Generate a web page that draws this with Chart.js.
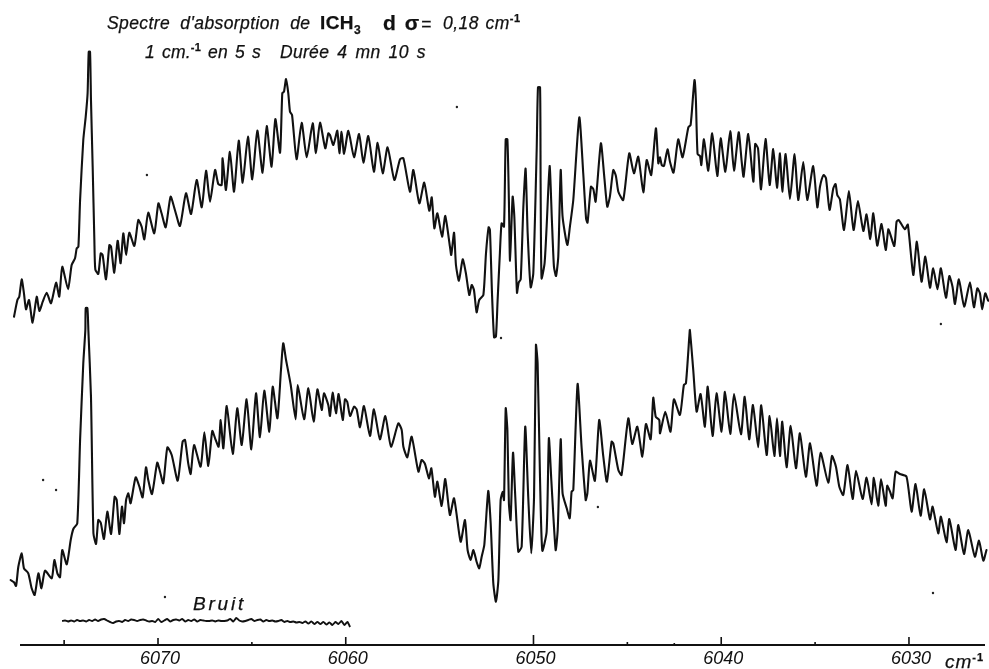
<!DOCTYPE html>
<html lang="fr">
<head>
  <meta charset="UTF-8">
  <title>Spectre d'absorption de ICH3</title>
  <script src="https://cdn.jsdelivr.net/npm/chart.js"></script>
  <style>
    html, body { margin: 0; padding: 0; background: #fff; overflow: hidden; }
    #wrap { position: relative; width: 989px; height: 669px; overflow: hidden; }
    canvas { display: block; }
    .t { position: absolute; white-space: pre; font: italic 17.5px "Liberation Sans", sans-serif; color: #111; line-height: 1; -webkit-text-stroke: .25px #111; }
    .t b { font-style: normal; font-weight: 700; font-size: 19px; }
    .t sup { font-size: 11px; font-style: normal; font-weight: 700; line-height: 0; }
    .t sub { font-size: 12px; line-height: 0; }
  </style>
</head>
<body>
<div id="wrap">
  <canvas id="spectre" width="989" height="669"></canvas>
  <div class="t" style="left:107px;top:15px;word-spacing:5px;letter-spacing:.4px">Spectre d'absorption de</div>
  <div class="t" style="left:320px;top:13px"><b style="letter-spacing:.4px">ICH<sub>3</sub></b></div>
  <div class="t" style="left:383px;top:12px"><b style="font-size:21px;word-spacing:3px">d σ</b></div>
  <div class="t" style="left:421px;top:16px">=</div>
  <div class="t" style="left:443px;top:15px;letter-spacing:.5px;word-spacing:1px">0,18 cm<sup>-1</sup></div>
  <div class="t" style="left:145px;top:44px;letter-spacing:.2px;word-spacing:2px">1 cm.<sup>-1</sup> en 5 s</div>
  <div class="t" style="left:280px;top:44px;letter-spacing:.3px;word-spacing:3px">Durée 4 mn 10 s</div>
  <div class="t" style="left:193px;top:594px;font-size:19px;letter-spacing:2.8px">Bruit</div>
  <div class="t" style="left:945px;top:652px;font-size:19px;letter-spacing:1px">cm<sup>-1</sup></div>
</div>

<script>
  var upperWave = [
    6077.67,6077.49,6077.39,6077.26,6077.14,6077.03,6076.87,6076.68,6076.46,6076.32,
    6076.14,6075.93,6075.70,6075.43,6075.26,6075.10,6074.79,6074.60,6074.42,6074.33,
    6074.24,6074.15,6073.98,6073.85,6073.75,6073.69,6073.62,6073.57,6073.48,6073.39,
    6073.34,6073.18,6073.05,6072.95,6072.77,6072.59,6072.50,6072.33,6072.15,6071.99,
    6071.85,6071.70,6071.53,6071.26,6071.05,6070.87,6070.73,6070.52,6070.20,6069.98,
    6069.81,6069.59,6069.33,6069.10,6068.83,6068.51,6068.24,6067.94,6067.67,6067.44,
    6067.23,6066.96,6066.79,6066.61,6066.56,6066.38,6066.17,6065.95,6065.70,6065.49,
    6065.21,6064.98,6064.71,6064.43,6064.21,6063.95,6063.75,6063.50,6063.38,6063.29,
    6063.18,6063.06,6062.97,6062.86,6062.62,6062.35,6062.08,6061.76,6061.59,6061.37,
    6061.09,6060.93,
    6060.84,6060.66,6060.45,6060.34,6060.22,6060.09,6059.86,6059.56,6059.29,6059.06,
    6058.80,6058.50,6058.30,6058.03,6057.77,6057.41,6057.11,6056.93,6056.58,6056.40,
    6056.08,6055.82,6055.55,6055.42,6055.28,6055.12,6054.87,6054.70,6054.45,6054.38,
    6054.23,6054.13,6053.97,6053.77,6053.60,6053.42,6053.29,6053.17,6053.03,6052.89,
    6052.67,6052.53,6052.39,6052.32,6052.21,6052.10,6052.00,6051.91,6051.79,6051.70,
    6051.57,6051.48,6051.39,6051.31,6051.25,6051.11,6051.02,6050.88,6050.79,6050.68,
    6050.54,6050.42,6050.31,6050.15,6050.01,6049.83,6049.76,6049.65,6049.62,6049.57,
    6049.41,6049.30,6049.14,6049.02,6048.91,6048.80,6048.68,6048.55,6048.45,6048.20,
    6048.06,6047.88,6047.56,6047.35,6047.20,6047.12,6046.94,6046.81,6046.69,6046.41,
    6046.23,6046.07,6045.93,6045.75,6045.61,6045.48,6045.22,6044.90,6044.65,6044.42,
    6044.15,6043.97,6043.73,6043.48,6043.35,
    6043.26,6043.17,6043.05,6042.86,6042.73,6042.54,6042.29,6042.06,6041.75,6041.63,
    6041.49,6041.42,6041.35,6041.26,6041.13,6041.06,6040.92,6040.69,6040.48,6040.21,
    6040.03,6039.78,6039.52,6039.32,6039.07,6038.91,6038.81,6038.56,6038.29,6038.19,
    6038.04,6037.88,6037.64,6037.42,6037.23,6037.03,6036.87,6036.75,6036.57,6036.34,
    6036.09,6035.90,6035.63,6035.42,6035.10,6034.88,6034.74,6034.55,6034.42,6034.23,
    6034.03,6033.91,6033.82,6033.68,6033.46,6033.20,6032.95,6032.72,6032.43,6032.26,
    6032.06,6031.90,6031.69,6031.46,6031.24,6031.10,6031.01,6030.78,6030.66,6030.55,
    6030.22,6030.06,6029.77,6029.58,6029.33,6029.13,6028.88,6028.71,6028.48,6028.30,
    6028.03,6027.85,6027.68,6027.55,6027.34,6027.06,6026.75,6026.54,6026.36,6026.22,
    6026.10,6025.94,6025.78
  ];
  var upperSignal = [
    328.3,345,348.3,365.7,351.7,335.7,345,322.3,348.3,334,
    343.3,352.3,341.7,362.3,348.3,378.3,355.7,380,386.7,396.7,
    398.3,445,505,528.3,551.7,593.3,593.3,545,478.3,405,
    375.7,371,391.7,390,365.7,400,398.3,372.3,404.3,381.7,
    411.7,390,412.3,399,425,418.3,405.7,432.3,411.7,441.7,
    431.7,417.7,448.3,435,419,451.7,431,465,437.7,474.3,
    443.3,475,461,460,486.7,455,493.3,453.3,504.3,462.3,
    508.3,465.7,514.3,472.3,519,478.3,526,492.3,551.7,553.3,
    566,551.7,533.3,530,485.7,522.3,487.7,521.7,491.7,522.3,
    496.7,511.7,
    510,500,514.3,491.7,513.3,491,514.3,487.7,511,482.3,
    509,473.3,502.3,471.7,497.7,465,485.7,486.7,453.3,475,
    441.7,462.3,434.3,447.7,416.7,431.7,408.3,429,398.3,390,
    412.3,380,364.3,385.7,371.7,350,360,355,332.7,345,
    350,391.7,417.7,415,351.7,307.7,308.3,345,391.7,421.7,
    418.3,505.7,505.7,445,384.3,448.3,428.3,352.3,362.3,365.7,
    438.3,476.3,411.7,357.7,371.7,495,557.7,557.7,461.7,366.7,
    381.7,418.3,479,425,378.3,369,388.3,475,428.3,400,
    418.3,445,527.7,471.7,426.7,422.3,458.3,455.7,443.3,501.7,
    468.3,438.3,448.3,475,469,453.3,445,491.7,471.7,488.3,
    452.7,485,470,516.7,481.7,
    487.7,480,479,495.7,483.3,472.3,505.7,487.7,517.7,520,
    551.7,565,545,491,489,480,505.7,474.3,511.7,469,
    506.7,473.3,514,474.3,512.7,483.3,468.3,511,463.3,501,
    496.7,455.7,506,460,496,457.3,491.7,453.3,491,446,
    491,445,483,445,479,437.7,458.3,470,466.7,435,
    456.7,461,450,445.7,415,454,415,444,414,430.7,
    405.7,431.7,399.3,421,395,415.7,411.7,399,423.3,425,
    415.7,420.3,370,403.3,363.3,388.3,357.3,376.7,355.7,376.7,
    347.3,369,358.3,341,365.7,338.3,362.7,337.7,356.7,351.7,
    335.7,351.7,344.3
  ];
  var lowerWave = [
    6077.85,6077.67,6077.56,6077.44,6077.26,6077.14,6076.91,6076.73,6076.57,6076.37,
    6076.21,6076.02,6075.66,6075.52,6075.36,6075.22,6075.10,6074.86,6074.65,6074.51,
    6074.30,6074.15,6073.98,6073.87,6073.85,6073.76,6073.71,6073.57,6073.44,6073.30,
    6073.18,6073.05,6072.88,6072.70,6072.50,6072.31,6072.20,6072.06,6071.92,6071.81,
    6071.70,6071.58,6071.46,6071.19,6070.99,6070.82,6070.64,6070.52,6070.32,6070.04,
    6069.89,6069.72,6069.50,6069.27,6068.95,6068.69,6068.56,6068.39,6068.26,6068.08,
    6067.73,6067.53,6067.32,6067.11,6066.96,6066.77,6066.66,6066.52,6066.34,6066.02,
    6065.78,6065.54,6065.28,6065.03,6064.78,6064.57,6064.34,6064.07,6063.89,6063.64,
    6063.45,6063.33,6063.18,6063.06,6062.93,6062.67,6062.56,6062.22,6061.99,6061.71,
    6061.51,6061.28,6061.16,6060.93,
    6060.84,6060.70,6060.52,6060.38,6060.16,6060.04,6059.92,6059.77,6059.56,6059.42,
    6059.24,6059.03,6058.71,6058.50,6058.18,6057.89,6057.59,6057.20,6057.02,6056.93,
    6056.72,6056.49,6056.13,6055.96,6055.78,6055.57,6055.44,6055.25,6055.12,6054.89,
    6054.70,6054.45,6054.23,6053.88,6053.65,6053.51,6053.35,6053.20,6053.03,6052.89,
    6052.76,6052.62,6052.41,6052.28,6052.14,6052.00,6051.87,6051.75,6051.64,6051.57,
    6051.48,6051.39,6051.31,6051.22,6051.09,6050.97,6050.81,6050.63,6050.44,6050.28,
    6050.12,6049.97,6049.87,6049.78,6049.65,6049.53,6049.30,6049.18,6049.05,6048.82,
    6048.71,6048.55,6048.45,6048.23,6048.07,6047.97,6047.88,6047.65,6047.44,6047.22,
    6047.13,6046.99,6046.73,6046.50,6046.28,6046.09,6045.84,6045.75,6045.48,6045.31,
    6044.95,6044.74,6044.47,6044.20,6044.01,6043.76,6043.62,6043.49,6043.30,
    6043.26,6042.98,6042.70,6042.52,6042.20,6041.99,6041.88,6041.70,6041.67,6041.49,
    6041.31,6041.10,6040.87,6040.72,6040.46,6040.25,6039.98,6039.80,6039.52,6039.32,
    6038.95,6038.75,6038.51,6038.31,6038.03,6037.87,6037.58,6037.42,6037.17,6037.03,
    6036.87,6036.75,6036.52,6036.30,6036.02,6035.81,6035.49,6035.27,6034.92,6034.71,
    6034.30,6034.10,6033.89,6033.71,6033.50,6033.27,6033.00,6032.82,6032.47,6032.26,
    6031.99,6031.87,6031.64,6031.49,6031.24,6031.16,6031.01,6030.87,6030.71,6030.48,
    6030.13,6029.86,6029.65,6029.38,6029.19,6028.88,6028.74,6028.44,6028.30,6028.00,
    6027.85,6027.52,6027.37,6027.07,6026.84,6026.49,6026.27,6026.04,6025.87
  ];
  var lowerSignal = [
    65,62.7,59,78.3,91.7,76.7,71.7,56.7,50,71.7,
    56.7,74.3,66.7,85,71.7,67.7,95,80.7,105,116,
    121.7,205,281.7,315,337,337,315,248.3,111.7,101,
    125,122.3,106,133.3,111,148.3,145,111,138.3,121.7,
    145,151.7,141.7,167.7,158.3,147.7,177.7,165,151,182.3,
    173.3,161.7,197.7,190,164.3,203.3,205,181.7,171,200,
    178.3,212.7,179,214,206.7,198.3,225,196.7,239,191,
    236.7,200,245.7,195.7,251.7,207.7,254.3,213.3,258.3,226.7,
    275,301.7,285,273.3,260,225.7,260,225.7,256.7,223.3,
    255.7,235,251.7,240,
    229,252.3,231.7,251,225,245.7,243.3,229,238.3,235.7,
    217.7,239,209,235.7,205.7,229,198.3,221.7,215,198.3,
    187.7,208.3,173.3,185,181,166.7,176.7,148.3,163.3,139,
    166,130,146.7,103.3,125,95,85,95,83.3,76.7,
    88.3,100,154,121.7,61.7,43.3,65,145,153.3,145,
    236.7,215,141.7,125,192.3,148.3,93.3,98.3,218.3,148.3,
    91.7,148.3,300,281.7,165,94.3,113.3,206.7,165,95,
    115,205.7,151.7,136.7,126.7,153.3,155,261,198.3,145,
    151.7,184.3,164.3,225,188.3,163.3,203.3,201.7,175,170,
    226.7,201,218.3,188.3,221,205.7,247.3,228.3,225,
    211.7,233.3,213.3,245.7,230,260,261.7,308.3,315,275,
    233.3,251,218.3,258.3,209,251.7,213.3,253.3,211,251,
    210.7,248.3,205.7,240,197.7,239.7,190,229,189,226.7,
    189,223.3,177.7,219.3,176.7,211.7,168.3,201.7,159.3,192.3,
    162.3,189,178.3,158.3,150,180,146,174.3,146,167.3,
    140.7,167.3,139.3,166,139.3,159.3,153.3,146.7,173.3,171,
    168.3,133.3,161,129.3,155.7,125.7,138.3,111.7,128.3,102.7,
    126,95,120,91,115,88.3,104.3,84.3,95
  ];
  var noiseWave = [
    6075.11,6074.95,6074.79,6074.63,6074.47,6074.31,6074.15,6073.99,6073.83,6073.67,
    6073.51,6073.35,6073.19,6073.03,6072.87,6072.71,6072.55,6072.39,6072.23,6072.07,
    6071.91,6071.75,6071.59,6071.43,6071.27,6071.11,6070.95,6070.79,6070.63,6070.47,
    6070.31,6070.15,6069.99,6069.83,6069.67,6069.51,6069.35,6069.19,6069.03,6068.87,
    6068.71,6068.55,6068.39,6068.23,6068.07,6067.91,6067.75,6067.59,6067.43,6067.27,
    6067.11,6066.95,6066.79,6066.63,6066.47,6066.31,6066.15,6065.99,6065.83,6065.67,
    6065.51,6065.35,6065.19,6065.03,6064.87,6064.71,6064.55,6064.39,6064.23,6064.07,
    6063.91,6063.75,6063.59,6063.43,6063.27,6063.11,6062.95,6062.79,6062.63,6062.47,
    6062.31,6062.15,6061.99,6061.83,6061.67,6061.51,6061.35,6061.19,6061.03,6060.87,
    6060.71,6060.55,6060.39,6060.23,6060.07,6059.91,6059.77
  ];
  var noiseSignal = [
    24,24.5,23.5,24.5,23.5,25,24,24.5,23.5,25,
    24,25.5,24,25.5,26,24.5,23,22,23.5,24,
    23,25,24,25.5,25,24,25,25.5,24.5,23.5,
    24,23,26,23,24.5,26,23.5,25,25.5,24.5,
    26,23.5,25,24,25.5,23.5,25,24.5,24,24,
    24.5,23.5,24.5,24,24,24.5,26,23.5,27,24.5,
    23.5,24,25,26,24,25,25.5,23.5,25,24,
    24.5,23.5,24,25,23,24,23,23.5,22.5,23,
    22,23.5,21.5,23.5,21,23,21,23,20.5,22.5,
    20,23,21,24,20,23,18
  ];
  var axisEnds = [6077.35, 6025.95];
  var tickLabels = [6070, 6060, 6050, 6040, 6030];
  var tickWave = [6075, 6070, 6065, 6060, 6050, 6045, 6042.5, 6040, 6035, 6030];
  var tickHeight = [5, 7, 3, 8, 10, 3, 2, 8, 3, 8];
  var speckWave = [6070.59, 6054.08, 6051.73, 6028.30, 6028.72, 6046.57, 6069.63, 6076.12, 6075.43];
  var speckSignal = [470, 538, 307, 321, 52, 138, 48, 165, 155];

  function points(xs, ys) {
    return xs.map(function(x, i) { return { x: x, y: ys[i] }; });
  }

  var tickSegments = [];
  tickWave.forEach(function(x, i) {
    tickSegments.push({ x: x, y: 0 }, { x: x, y: tickHeight[i] }, { x: x, y: null });
  });

  var traceStyle = { borderColor: '#111', borderWidth: 2.1, pointRadius: 0, tension: 0.2, fill: false, borderJoinStyle: 'round', borderCapStyle: 'round', clip: false };

  new Chart(document.getElementById('spectre'), {
    type: 'scatter',
    data: {
      datasets: [
        Object.assign({ label: 'ICH3 (1)', data: points(upperWave, upperSignal), showLine: true }, traceStyle),
        Object.assign({ label: 'ICH3 (2)', data: points(lowerWave, lowerSignal), showLine: true }, traceStyle),
        { label: 'Bruit', data: points(noiseWave, noiseSignal), showLine: true, borderColor: '#111', borderWidth: 1.9, pointRadius: 0, tension: 0.2 },
        { label: 'axe', data: points(axisEnds, [0, 0]), showLine: true, borderColor: '#111', borderWidth: 2, pointRadius: 0, clip: false },
        { label: 'graduations', data: tickSegments, showLine: true, spanGaps: false, borderColor: '#111', borderWidth: 1.6, pointRadius: 0, clip: false },
        { label: 'taches', data: points(speckWave, speckSignal), showLine: false, backgroundColor: '#222', pointRadius: 1.2, pointBorderWidth: 0 }
      ]
    },
    options: {
      responsive: false,
      animation: false,
      devicePixelRatio: 1,
      layout: { padding: { left: 8, right: 0, top: 0, bottom: 0 } },
      plugins: { legend: { display: false }, tooltip: { enabled: false }, title: { display: false } },
      scales: {
        x: {
          type: 'linear',
          reverse: true,
          min: 6025.95,
          max: 6077.99,
          border: { display: false },
          grid: { display: false, drawTicks: false },
          afterBuildTicks: function(scale) {
            scale.ticks = tickLabels.map(function(v) { return { value: v }; });
          },
          afterFit: function(scale) {
            scale.height = 24;
            scale.paddingLeft = 0;
            scale.paddingRight = 0;
          },
          ticks: {
            autoSkip: false,
            maxRotation: 0,
            padding: 3,
            labelOffset: 2,
            color: '#111',
            font: { family: '"Liberation Sans", sans-serif', size: 18, style: 'italic' },
            callback: function(value) { return String(value); }
          }
        },
        y: { display: false, min: 0, max: 641 }
      }
    }
  });
</script>
</body>
</html>
